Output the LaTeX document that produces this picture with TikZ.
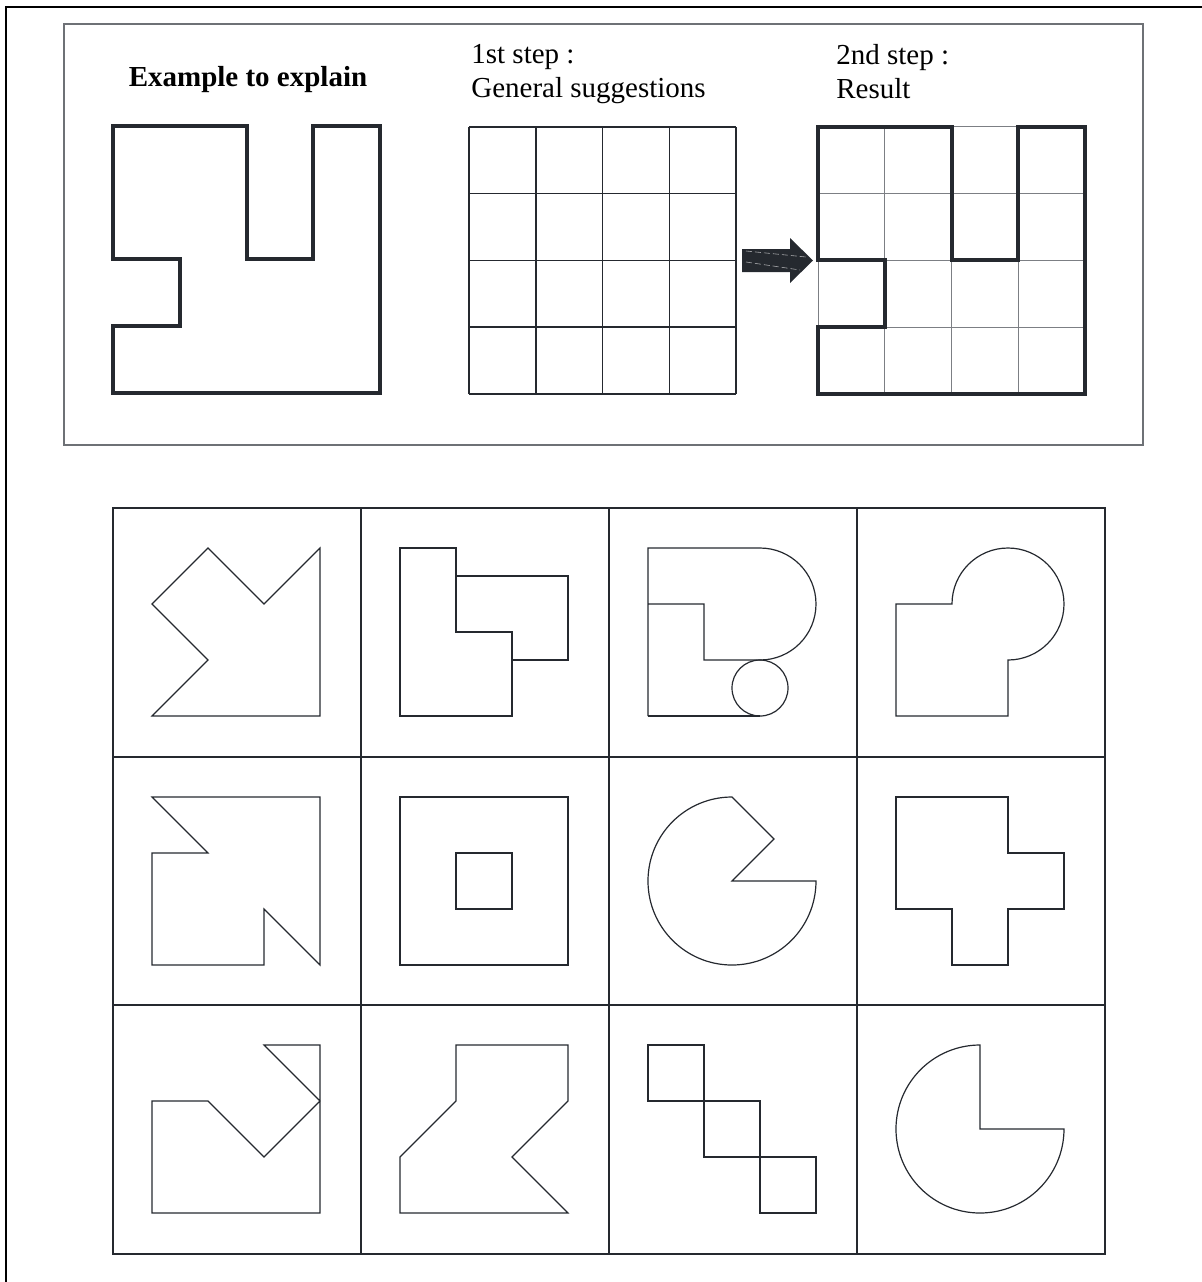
\documentclass[tikz,border=0pt]{standalone}
\usepackage{fontspec}
\setmainfont{Liberation Serif}
\definecolor{ink}{HTML}{25292F}
\definecolor{rim}{HTML}{6E7176}
\definecolor{faint}{HTML}{7C7F84}
\begin{document}
\begin{tikzpicture}[x=0.5pt,y=0.5pt,font=\fontsize{14.5}{17}\selectfont,
  pen/.style={draw=ink,line width=0.6pt,line join=miter},
  cellgrid/.style={draw=ink,line width=0.75pt},
  thingrid/.style={draw=faint,line width=0.5pt},
  outline/.style={draw=ink,line width=2pt,line join=miter},
  label/.style={anchor=north west,align=left,inner sep=0pt}]
\useasboundingbox (0,0) rectangle (1202,-1282);
\draw[black,line width=1.25pt] (6,-1290) -- (6,-7) -- (1210,-7);
\draw[rim,line width=0.65pt] (64,-24) rectangle (1143,-445);
\node[anchor=base,inner sep=0pt,font=\fontsize{14.5}{17}\selectfont\bfseries] (ex) at (248,-86) {Example to explain};
\node[label] (step1) at (471,-44) {1st step :\\General suggestions};
\node[label] (step2) at (836,-44) {2nd step :\\Result};
\begin{scope}[shift={(113,-393)},x=33.4pt,y=33.4pt]
\draw[outline] (0,4) -- (2,4) -- (2,2) -- (3,2) -- (3,4) -- (4,4) -- (4,0) -- (0,0) -- (0,1) -- (1,1) -- (1,2) -- (0,2) -- cycle;
\end{scope}
\begin{scope}[shift={(469,-394)},x=33.4pt,y=33.4pt]
\foreach \i in {0,...,4}{\draw[cellgrid] (\i,0) -- (\i,4); \draw[cellgrid] (0,\i) -- (4,\i);}
\end{scope}
\fill[ink] (742,-249) -- (790,-249) -- (790,-238) -- (813,-260.5) -- (790,-283) -- (790,-272) -- (742,-272) -- cycle;
\draw[white!60!ink,line width=0.3pt,dash pattern=on 3pt off 1.5pt] (746,-251) -- (806,-257);
\draw[white!60!ink,line width=0.3pt,dash pattern=on 3pt off 1.5pt] (746,-262) -- (800,-270);
\begin{scope}[shift={(818,-394)},x=33.4pt,y=33.4pt]
\foreach \i in {0,...,4}{\draw[thingrid] (\i,0) -- (\i,4); \draw[thingrid] (0,\i) -- (4,\i);}
\draw[outline] (0,4) -- (2,4) -- (2,2) -- (3,2) -- (3,4) -- (4,4) -- (4,0) -- (0,0) -- (0,1) -- (1,1) -- (1,2) -- (0,2) -- cycle;
\end{scope}
\draw[cellgrid] (113,-508) rectangle (1105,-1254);
\foreach \x in {361,609,857}{\draw[cellgrid] (\x,-508) -- (\x,-1254);}
\foreach \y in {757,1005}{\draw[cellgrid] (113,-\y) -- (1105,-\y);}
\begin{scope}[shift={(152,-716)},x=28pt,y=28pt]
\draw[pen] (0,2) -- (1,3) -- (2,2) -- (3,3) -- (3,0) -- (0,0) -- (1,1) -- cycle;
\end{scope}
\begin{scope}[shift={(400,-716)},x=28pt,y=28pt]
\draw[pen] (0,3) -- (1,3) -- (1,1.5) -- (2,1.5) -- (2,0) -- (0,0) -- cycle;
\draw[pen] (1,2.5) -- (3,2.5) -- (3,1) -- (2,1);
\end{scope}
\begin{scope}[shift={(648,-716)},x=28pt,y=28pt]
\draw[pen] (0,0) -- (0,3) -- (2,3) arc[start angle=90,end angle=-90,radius=1] -- (1,1) -- (1,2) -- (0,2);
\draw[pen] (0,0) -- (2,0);
\draw[pen] (2,0.5) circle[radius=0.5];
\end{scope}
\begin{scope}[shift={(896,-716)},x=28pt,y=28pt]
\draw[pen] (0,0) -- (0,2) -- (1,2) arc[start angle=180,end angle=-90,radius=1] -- (2,0) -- cycle;
\end{scope}
\begin{scope}[shift={(152,-965)},x=28pt,y=28pt]
\draw[pen] (0,3) -- (1,2) -- (0,2) -- (0,0) -- (2,0) -- (2,1) -- (3,0) -- (3,3) -- cycle;
\end{scope}
\begin{scope}[shift={(400,-965)},x=28pt,y=28pt]
\draw[pen] (0,0) rectangle (3,3);
\draw[pen] (1,1) rectangle (2,2);
\end{scope}
\begin{scope}[shift={(648,-965)},x=28pt,y=28pt]
\draw[pen] (1.5,3) arc[start angle=90,end angle=360,radius=1.5] -- (1.5,1.5) -- (2.25,2.25) -- cycle;
\end{scope}
\begin{scope}[shift={(896,-965)},x=28pt,y=28pt]
\draw[pen] (0,3) -- (2,3) -- (2,2) -- (3,2) -- (3,1) -- (2,1) -- (2,0) -- (1,0) -- (1,1) -- (0,1) -- cycle;
\end{scope}
\begin{scope}[shift={(152,-1213)},x=28pt,y=28pt]
\draw[pen] (0,2) -- (1,2) -- (2,1) -- (3,2) -- (2,3) -- (3,3) -- (3,0) -- (0,0) -- cycle;
\end{scope}
\begin{scope}[shift={(400,-1213)},x=28pt,y=28pt]
\draw[pen] (1,3) -- (3,3) -- (3,2) -- (2,1) -- (3,0) -- (0,0) -- (0,1) -- (1,2) -- cycle;
\end{scope}
\begin{scope}[shift={(648,-1213)},x=28pt,y=28pt]
\draw[pen] (0,2) rectangle (1,3);
\draw[pen] (1,1) rectangle (2,2);
\draw[pen] (2,0) rectangle (3,1);
\end{scope}
\begin{scope}[shift={(896,-1213)},x=28pt,y=28pt]
\draw[pen] (1.5,3) arc[start angle=90,end angle=360,radius=1.5] -- (1.5,1.5) -- cycle;
\end{scope}
\end{tikzpicture}
\end{document}
